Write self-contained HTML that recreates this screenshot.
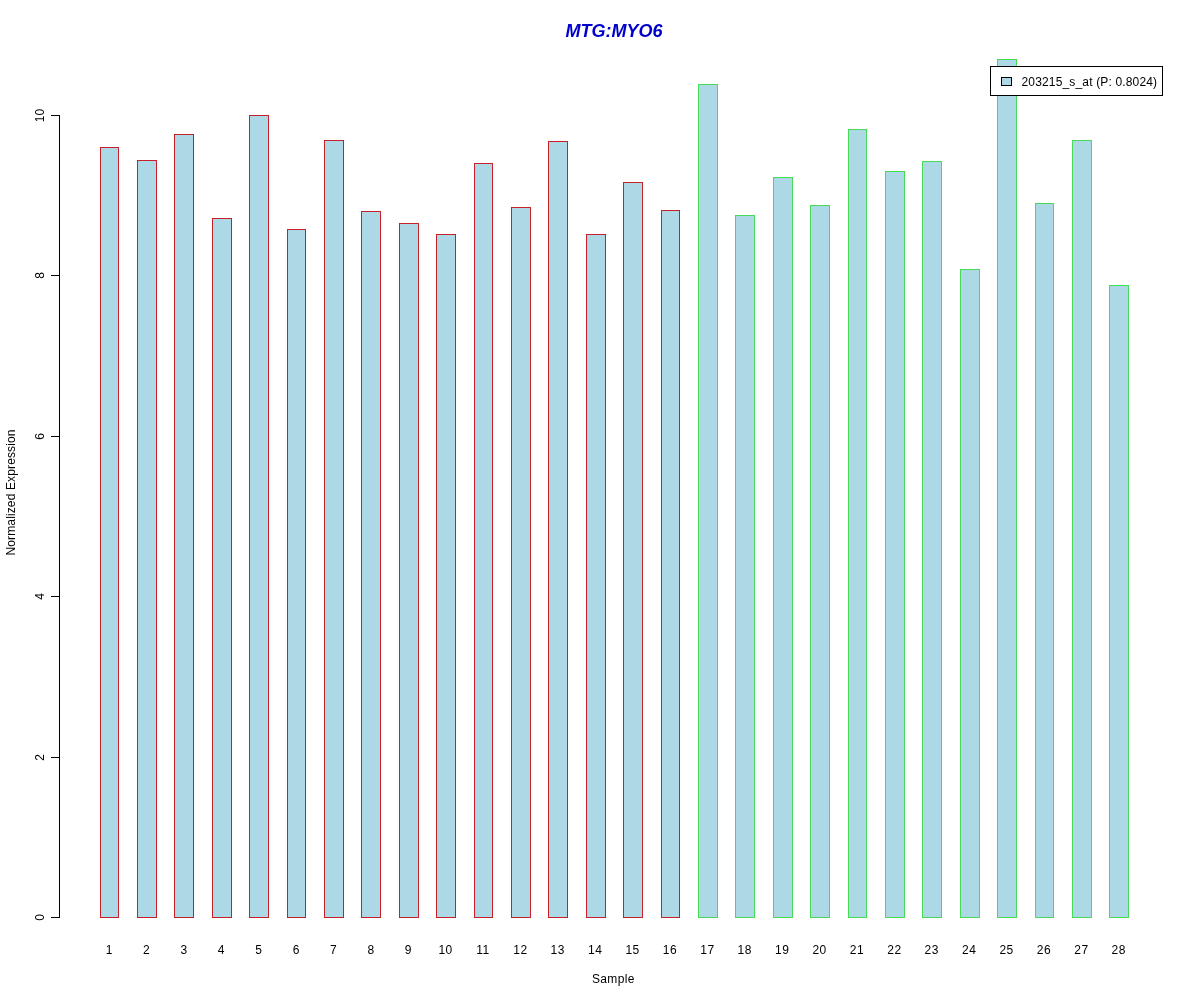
<!DOCTYPE html>
<html><head><meta charset="utf-8"><title>MTG:MYO6</title>
<style>
html,body{margin:0;padding:0;background:#fff;}
body{width:1200px;height:1000px;overflow:hidden;}
svg{display:block;}
text{font-family:"Liberation Sans",Arial,sans-serif;font-size:12px;fill:#000;}
.t{font-size:18px;font-weight:bold;font-style:italic;fill:#0000CD;}
.c{text-anchor:middle;}
</style></head><body>
<svg width="1200" height="1000" viewBox="0 0 1200 1000">
<rect x="0" y="0" width="1200" height="1000" fill="#fff"/>
<g shape-rendering="crispEdges" fill="#ADD8E6" stroke-width="1">
<rect x="100.5" y="147.5" width="18" height="770" stroke="#C8202A"/>
<rect x="137.5" y="160.5" width="19" height="757" stroke="#C8202A"/>
<rect x="174.5" y="134.5" width="19" height="783" stroke="#C8202A"/>
<rect x="212.5" y="218.5" width="19" height="699" stroke="#C8202A"/>
<rect x="249.5" y="115.5" width="19" height="802" stroke="#C8202A"/>
<rect x="287.5" y="229.5" width="18" height="688" stroke="#C8202A"/>
<rect x="324.5" y="140.5" width="19" height="777" stroke="#C8202A"/>
<rect x="361.5" y="211.5" width="19" height="706" stroke="#C8202A"/>
<rect x="399.5" y="223.5" width="19" height="694" stroke="#C8202A"/>
<rect x="436.5" y="234.5" width="19" height="683" stroke="#C8202A"/>
<rect x="474.5" y="163.5" width="18" height="754" stroke="#C8202A"/>
<rect x="511.5" y="207.5" width="19" height="710" stroke="#C8202A"/>
<rect x="548.5" y="141.5" width="19" height="776" stroke="#C8202A"/>
<rect x="586.5" y="234.5" width="19" height="683" stroke="#C8202A"/>
<rect x="623.5" y="182.5" width="19" height="735" stroke="#C8202A"/>
<rect x="661.5" y="210.5" width="18" height="707" stroke="#C8202A"/>
<rect x="698.5" y="84.5" width="19" height="833" stroke="#46DC58"/>
<rect x="735.5" y="215.5" width="19" height="702" stroke="#46DC58"/>
<rect x="773.5" y="177.5" width="19" height="740" stroke="#46DC58"/>
<rect x="810.5" y="205.5" width="19" height="712" stroke="#46DC58"/>
<rect x="848.5" y="129.5" width="18" height="788" stroke="#46DC58"/>
<rect x="885.5" y="171.5" width="19" height="746" stroke="#46DC58"/>
<rect x="922.5" y="161.5" width="19" height="756" stroke="#46DC58"/>
<rect x="960.5" y="269.5" width="19" height="648" stroke="#46DC58"/>
<rect x="997.5" y="59.5" width="19" height="858" stroke="#46DC58"/>
<rect x="1035.5" y="203.5" width="18" height="714" stroke="#46DC58"/>
<rect x="1072.5" y="140.5" width="19" height="777" stroke="#46DC58"/>
<rect x="1109.5" y="285.5" width="19" height="632" stroke="#46DC58"/>
</g>
<g shape-rendering="crispEdges" stroke="#000" stroke-width="1" fill="none">
<path d="M59.5 115V918"/>
<path d="M51 917.5H60"/>
<path d="M51 757.5H60"/>
<path d="M51 596.5H60"/>
<path d="M51 436.5H60"/>
<path d="M51 275.5H60"/>
<path d="M51 115.5H60"/>
</g>
<text class="c" transform="translate(44 917.5) rotate(-90)">0</text>
<text class="c" transform="translate(44 757.5) rotate(-90)">2</text>
<text class="c" transform="translate(44 596.5) rotate(-90)">4</text>
<text class="c" transform="translate(44 436.5) rotate(-90)">6</text>
<text class="c" transform="translate(44 275.5) rotate(-90)">8</text>
<text class="c" transform="translate(44 115.5) rotate(-90)">10</text>
<text class="c" x="109.0" y="954">1</text>
<text class="c" x="146.4" y="954">2</text>
<text class="c" x="183.8" y="954">3</text>
<text class="c" x="221.2" y="954">4</text>
<text class="c" x="258.6" y="954">5</text>
<text class="c" x="296.0" y="954">6</text>
<text class="c" x="333.4" y="954">7</text>
<text class="c" x="370.8" y="954">8</text>
<text class="c" x="408.2" y="954">9</text>
<text class="c" x="445.6" y="954" letter-spacing="0.5">10</text>
<text class="c" x="483.0" y="954" letter-spacing="0.5">11</text>
<text class="c" x="520.4" y="954" letter-spacing="0.5">12</text>
<text class="c" x="557.8" y="954" letter-spacing="0.5">13</text>
<text class="c" x="595.2" y="954" letter-spacing="0.5">14</text>
<text class="c" x="632.6" y="954" letter-spacing="0.5">15</text>
<text class="c" x="670.0" y="954" letter-spacing="0.5">16</text>
<text class="c" x="707.4" y="954" letter-spacing="0.5">17</text>
<text class="c" x="744.8" y="954" letter-spacing="0.5">18</text>
<text class="c" x="782.2" y="954" letter-spacing="0.5">19</text>
<text class="c" x="819.6" y="954" letter-spacing="0.5">20</text>
<text class="c" x="857.0" y="954" letter-spacing="0.5">21</text>
<text class="c" x="894.4" y="954" letter-spacing="0.5">22</text>
<text class="c" x="931.8" y="954" letter-spacing="0.5">23</text>
<text class="c" x="969.2" y="954" letter-spacing="0.5">24</text>
<text class="c" x="1006.6" y="954" letter-spacing="0.5">25</text>
<text class="c" x="1044.0" y="954" letter-spacing="0.5">26</text>
<text class="c" x="1081.4" y="954" letter-spacing="0.5">27</text>
<text class="c" x="1118.8" y="954" letter-spacing="0.5">28</text>
<text x="592" y="982.5" textLength="42.4">Sample</text>
<text transform="translate(15 555.5) rotate(-90)" textLength="126">Normalized Expression</text>
<text class="c t" x="614" y="37">MTG:MYO6</text>
<g shape-rendering="crispEdges" stroke="#000" stroke-width="1"><rect x="990.5" y="66.5" width="172" height="29" fill="#fff"/><rect x="1001.5" y="77.5" width="10" height="8" fill="#ADD8E6"/></g>
<text x="1021.5" y="86" textLength="135.6">203215_s_at (P: 0.8024)</text>
</svg></body></html>
